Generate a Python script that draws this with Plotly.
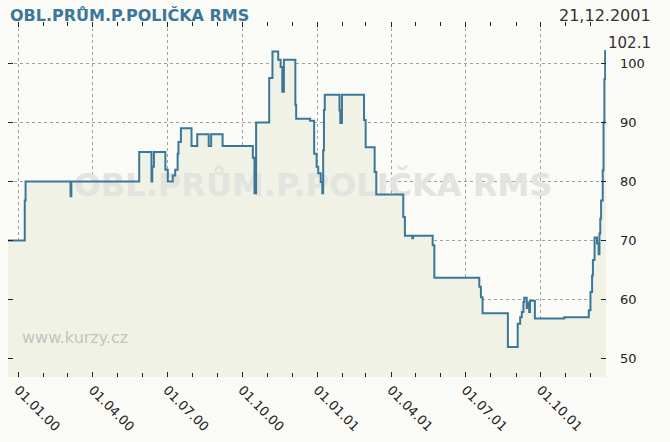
import plotly.graph_objects as go
import pandas as pd

dates = [
    "1999-12-19", "2000-01-09", "2000-01-10", "2000-03-05", "2000-03-06",
    "2000-05-28", "2000-06-12", "2000-06-13", "2000-06-15", "2000-06-29",
    "2000-07-02", "2000-07-08", "2000-07-11", "2000-07-14", "2000-07-15",
    "2000-07-18", "2000-07-31", "2000-08-07", "2000-08-21", "2000-08-24",
    "2000-09-07", "2000-10-14", "2000-10-16", "2000-10-18", "2000-11-03",
    "2000-11-07", "2000-11-14", "2000-11-17", "2000-11-19", "2000-11-21",
    "2000-12-05", "2000-12-06", "2000-12-23", "2000-12-28", "2000-12-31",
    "2001-01-02", "2001-01-05", "2001-01-07", "2001-01-08", "2001-01-09",
    "2001-01-10", "2001-01-28", "2001-01-29", "2001-01-31", "2001-02-27",
    "2001-03-01", "2001-03-12", "2001-03-14", "2001-04-16", "2001-04-18",
    "2001-04-27", "2001-04-28", "2001-05-22", "2001-05-24", "2001-07-18",
    "2001-07-20", "2001-07-22", "2001-08-22", "2001-09-03", "2001-09-06",
    "2001-09-08", "2001-09-10", "2001-09-11", "2001-09-14", "2001-09-15",
    "2001-09-17", "2001-09-18", "2001-09-24", "2001-10-30", "2001-11-29",
    "2001-12-01", "2001-12-03", "2001-12-04", "2001-12-06", "2001-12-09",
    "2001-12-11", "2001-12-12", "2001-12-13", "2001-12-14", "2001-12-16",
    "2001-12-17", "2001-12-18", "2001-12-19", "2001-12-20",
]
values = [
    70, 76.8, 80, 77.5, 80,
    85, 80, 82.5, 85, 82,
    80, 81, 82, 84.7, 86.7,
    89, 86, 88, 86, 88,
    86, 84, 78, 90, 97.5,
    102, 100.6, 99.4, 95.2, 100.6,
    93, 90.6, 90.3, 84.7, 82.5,
    81.4, 79.9, 78.0, 85.3, 92.1,
    94.7, 92, 89.9, 94.7, 90.4,
    85.8, 81.6, 77.8, 74, 70.8,
    70.4, 70.8, 69.2, 63.7, 62.2,
    60.4, 57.7, 52.0, 55.9, 57.0,
    57.9, 59.6, 60.3, 58.6, 59.5,
    57.9, 59.8, 56.8, 57.0, 58.2,
    61.3, 64.1, 66.7, 70.5, 69.5,
    67.7, 71.2, 73.7, 76.8, 81.9,
    90, 97.3, 102.1, 102.1,
]

tick_dates = ["2000-01-01", "2000-04-01", "2000-07-01", "2000-10-01",
              "2001-01-01", "2001-04-01", "2001-07-01", "2001-10-01"]
tick_labels = ["01.01.00", "01.04.00", "01.07.00", "01.10.00",
               "01.01.01", "01.04.01", "01.07.01", "01.10.01"]
y_ticks = [50, 60, 70, 80, 90, 100]

title_text = "OBL.PRŮM.P.POLIČKA RMS"
date_text = "21,12.2001"
last_text = "102.1"
site_text = "www.kurzy.cz"

x_range = ["1999-12-19 12:00", "2001-12-20 00:00"]
y_range = [46.9, 107.0]

LINE = "#3b7799"
BG = "#fafaf6"
FILL = "#f1f2e6"
FONT = "DejaVu Sans"

x0 = pd.Timestamp(x_range[0])
x1 = pd.Timestamp(x_range[1])
mid_x = x0 + (x1 - x0) * 0.51
kurzy_x = x0 + (x1 - x0) * 0.0234

fig = go.Figure()
fig.add_trace(go.Scatter(
    x=dates, y=values, mode="lines", line=dict(width=0, shape="hv"),
    fill="tozeroy", fillcolor=FILL, hoverinfo="skip", showlegend=False,
))
fig.add_trace(go.Scatter(
    x=[mid_x], y=[y_range[0] + (y_range[1] - y_range[0]) * 0.532],
    mode="text", text=[title_text],
    textfont=dict(family=FONT, size=32, color="#e3e3df", weight="bold"),
    textposition="middle center", hoverinfo="skip", showlegend=False,
))
fig.add_trace(go.Scatter(
    x=[kurzy_x], y=[y_range[0] + (y_range[1] - y_range[0]) * 0.107],
    mode="text", text=[site_text],
    textfont=dict(family=FONT, size=16, color="#c4c4c0"),
    textposition="middle right", hoverinfo="skip", showlegend=False,
))
fig.add_trace(go.Scatter(
    x=dates, y=values, mode="lines",
    line=dict(color=LINE, width=2, shape="hv"),
    showlegend=False,
))

fig.update_layout(
    width=670, height=442, autosize=False,
    margin=dict(l=8, r=64, t=22, b=65),
    paper_bgcolor=BG, plot_bgcolor=BG,
    font=dict(family=FONT, color="#222222"),
    showlegend=False,
)
fig.update_xaxes(
    type="date", range=x_range, automargin=False,
    tickvals=tick_dates, ticktext=tick_labels, tickangle=45,
    tickfont=dict(size=13, color="#222222"),
    ticks="inside", ticklen=5, tickcolor="#222222", tickwidth=1,
    ticklabelstandoff=2,
    showgrid=True, gridcolor="#a0a0a0", griddash="dot", gridwidth=1,
    zeroline=False, showline=False, mirror="ticks",
    minor=dict(dtick="M1", tick0="2000-01-01", ticks="inside", ticklen=4,
               tickcolor="#222222", showgrid=False),
)
fig.update_yaxes(
    range=y_range, side="right", tickvals=y_ticks, automargin=False,
    tickfont=dict(size=13, color="#222222"),
    ticks="inside", ticklen=5, tickcolor="#222222", tickwidth=1,
    ticklabelstandoff=13,
    showgrid=True, gridcolor="#a0a0a0", griddash="dot", gridwidth=1,
    zeroline=False, showline=False, mirror="ticks",
)

fig.add_annotation(
    xref="paper", yref="paper", x=0.0, y=1.017, xanchor="left", yanchor="middle",
    text=f"<b>{title_text}</b>", showarrow=False,
    font=dict(family=FONT, size=16, color=LINE),
)
fig.add_annotation(
    xref="paper", yref="paper", x=1.0786, y=1.017, xanchor="right", yanchor="middle",
    text=date_text, showarrow=False,
    font=dict(family=FONT, size=16, color="#333333"),
)
fig.add_annotation(
    xref="paper", yref="paper", x=1.0786, y=0.942, xanchor="right", yanchor="middle",
    text=last_text, showarrow=False,
    font=dict(family=FONT, size=15, color="#333333"),
)

fig.write_html(
    "out.html",
    config={"displayModeBar": False},
    post_script="document.body.style.margin='0';document.body.style.background='%s';" % BG,
)
